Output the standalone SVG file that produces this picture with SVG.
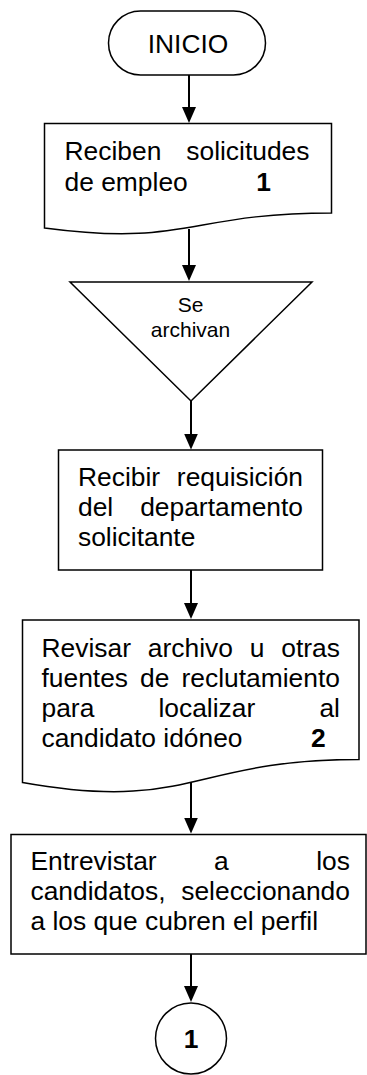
<svg xmlns="http://www.w3.org/2000/svg" width="367" height="1075" viewBox="0 0 367 1075">
<style>
.shape{fill:#fff;stroke:#000;stroke-width:1.5}
.conn{fill:none;stroke:#000;stroke-width:2}
.t{font-family:"Liberation Sans",Arial,sans-serif;font-size:26.4px;fill:#000}
.b{font-weight:bold}
.s{font-family:"Liberation Sans",Arial,sans-serif;font-size:21px;fill:#000}
</style>
<defs>
<marker id="arr" viewBox="0 0 16 14" refX="12" refY="7" markerWidth="16" markerHeight="14" markerUnits="userSpaceOnUse" orient="auto">
<path d="M0,0 L16,7 L0,14 Z" fill="#000"/>
</marker>
</defs>
<rect width="367" height="1075" fill="#fff"/>
<g id="connectors">
<line class="conn" x1="189" y1="75" x2="189" y2="119" marker-end="url(#arr)"/>
<line class="conn" x1="189" y1="229" x2="189" y2="277" marker-end="url(#arr)"/>
<line class="conn" x1="191" y1="401" x2="191" y2="445.5" marker-end="url(#arr)"/>
<line class="conn" x1="191" y1="570" x2="191" y2="615" marker-end="url(#arr)"/>
<line class="conn" x1="191" y1="782" x2="191" y2="829.5" marker-end="url(#arr)"/>
<line class="conn" x1="191" y1="954" x2="191" y2="998" marker-end="url(#arr)"/>
</g>
<g id="inicio">
<rect class="shape" x="108.5" y="11" width="157" height="64" rx="32" ry="32"/>
<text class="t" x="188" y="53" text-anchor="middle" font-size="26.5">INICIO</text>
</g>
<g id="recibenSolicitudes">
<path class="shape" d="M44.5,123.5 H331.5 V213 C188,213 188,247 44.5,228 Z"/>
<text class="t" x="64.5" y="159.5" word-spacing="17.6">Reciben solicitudes</text>
<text class="t" x="64.5" y="190.5">de empleo</text>
<text class="t b" x="263.5" y="190.5" text-anchor="middle">1</text>
</g>
<g id="seArchivan">
<path class="shape" d="M70,282 L312,282 L191,401 Z"/>
<text class="s" x="190.5" y="312" text-anchor="middle">Se</text>
<text class="s" x="190.5" y="336.5" text-anchor="middle">archivan</text>
</g>
<g id="recibirRequisicion">
<rect class="shape" x="58.5" y="450" width="264" height="120"/>
<text class="t" x="78" y="485.5" word-spacing="9.4">Recibir requisición</text>
<text class="t" x="78" y="515.5" word-spacing="19.6">del departamento</text>
<text class="t" x="78" y="545.5">solicitante</text>
</g>
<g id="revisarArchivo">
<path class="shape" d="M22.5,620 H359 V759.5 C190.75,759.5 190.75,812.6 22.5,782.5 Z"/>
<text class="t" x="41.5" y="656.5" word-spacing="9.5">Revisar archivo u otras</text>
<text class="t" x="41.5" y="686.5" word-spacing="4.7">fuentes de reclutamiento</text>
<text class="t" x="41.5" y="716.5" word-spacing="56.8">para localizar al</text>
<text class="t" x="41.5" y="746.5">candidato idóneo</text>
<text class="t b" x="311" y="746.5">2</text>
</g>
<g id="entrevistar">
<rect class="shape" x="11" y="834.5" width="355" height="119.5"/>
<text class="t" x="30.5" y="870">Entrevistar</text>
<text class="t" x="214" y="870">a</text>
<text class="t" x="350" y="870" text-anchor="end">los</text>
<text class="t" x="30.5" y="900" word-spacing="8.4">candidatos, seleccionando</text>
<text class="t" x="30.5" y="930">a los que cubren el perfil</text>
</g>
<g id="conector1">
<circle class="shape" cx="191" cy="1038.5" r="35.5"/>
<text class="t b" x="191" y="1048" text-anchor="middle">1</text>
</g>
</svg>
